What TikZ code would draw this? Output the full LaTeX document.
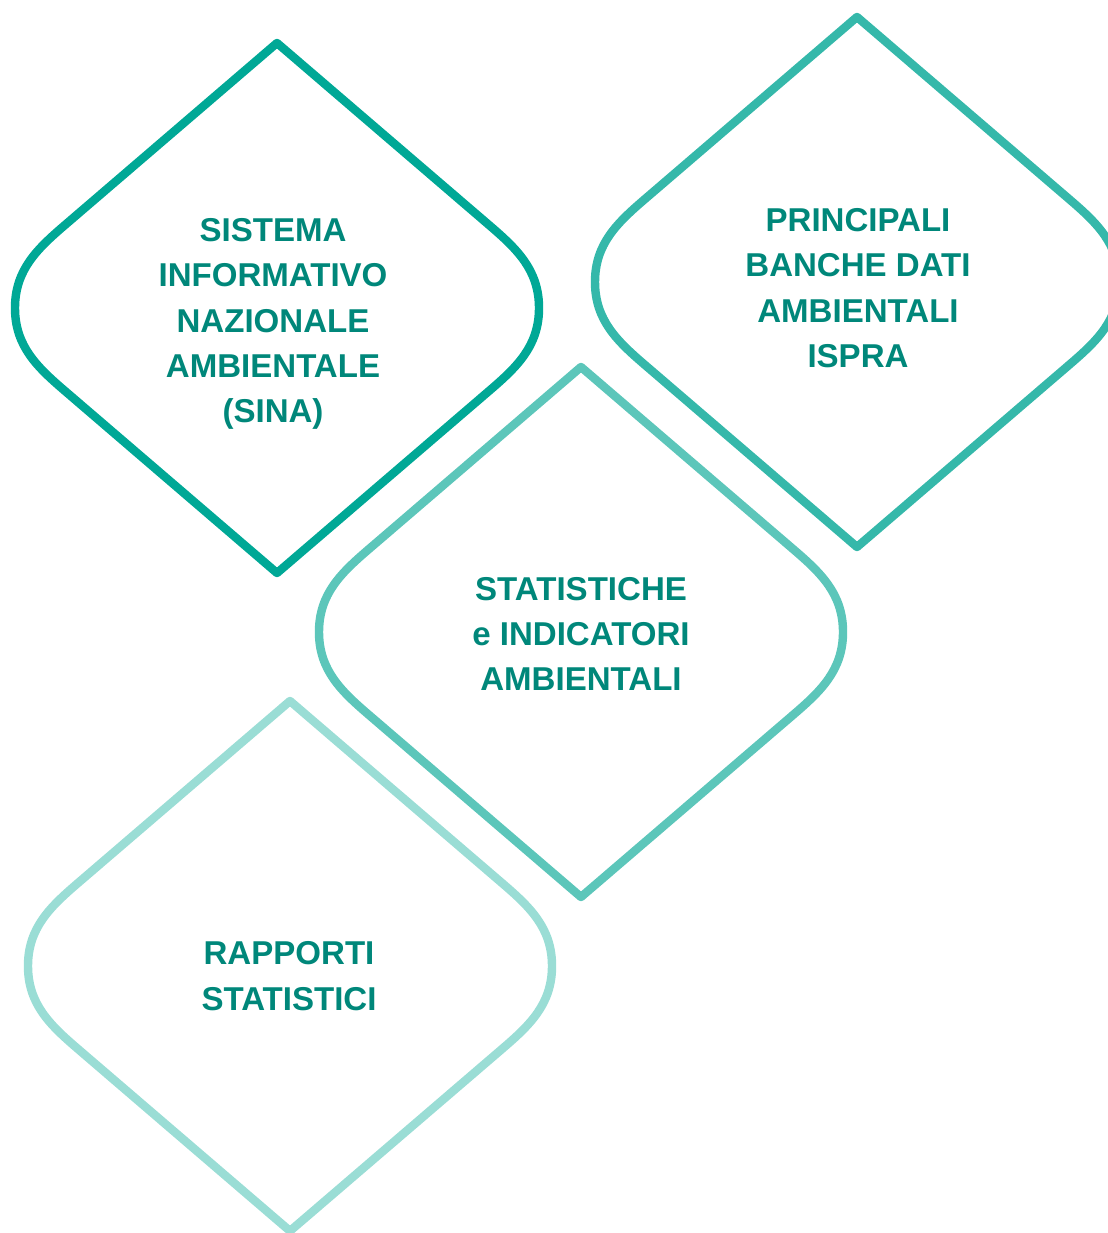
\documentclass[tikz,border=0pt]{standalone}
\usepackage{fontspec}
\setmainfont{Liberation Sans}
\usetikzlibrary{positioning}

\definecolor{tealA}{HTML}{00A896}
\definecolor{tealB}{HTML}{35B8AA}
\definecolor{tealC}{HTML}{5CC6BA}
\definecolor{tealD}{HTML}{9ADDD5}
\definecolor{tealtext}{HTML}{00877A}

\tikzset{
	drop/.pic={
		\draw[line width=6pt] (0,-265) -- (-212,-83)
			.. controls (-240,-59) and (-262,-38) .. (-262,0)
			.. controls (-262,38) and (-240,59) .. (-212,83)
			-- (0,265) -- (212,83)
			.. controls (240,59) and (262,38) .. (262,0)
			.. controls (262,-38) and (240,-59) .. (212,-83)
			-- cycle;
	},
	label text/.style={
		text=tealtext,
		align=center,
		font=\fontsize{23.5}{32.3}\selectfont\bfseries
	}
}

\begin{document}
\begin{tikzpicture} [
						x=0.025cm, y=-0.025cm,
						line join=round
					]

\useasboundingbox (0,0) rectangle (1108,1233);

\begin{scope}
\clip (0,0) rectangle (1108,1233);
\pic[draw=tealD] (rapportidrop) at (290,966) {drop};
\pic[draw=tealC] (indicatoridrop) at (581,632) {drop};
\pic[draw=tealB] (banchedrop) at (857,282) {drop};
\pic[draw=tealA] (sinadrop) at (277,308) {drop};
\end{scope}

\node (sina) [label text] at (273,324) {SISTEMA\\INFORMATIVO\\NAZIONALE\\AMBIENTALE\\(SINA)};
\node (banche) [label text] at (858,288) {PRINCIPALI\\BANCHE DATI\\AMBIENTALI\\ISPRA};
\node (indicatori) [label text] at (581,634) {STATISTICHE\\e INDICATORI\\AMBIENTALI};
\node (rapporti) [label text] at (289,976) {RAPPORTI\\STATISTICI};
\end{tikzpicture}
\end{document}
